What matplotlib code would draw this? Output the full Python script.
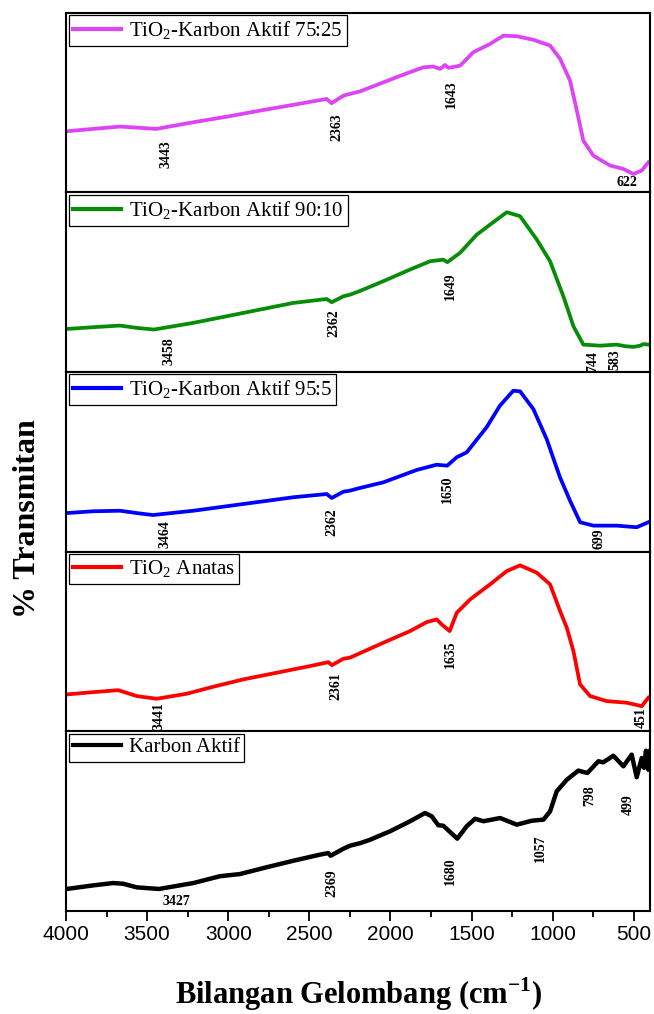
import matplotlib
matplotlib.use('Agg')
import matplotlib.pyplot as plt
from matplotlib.ticker import MultipleLocator

plt.rcParams['font.family'] = 'Liberation Serif'
plt.rcParams['mathtext.fontset'] = 'custom'
plt.rcParams['mathtext.rm'] = 'Liberation Serif'
plt.rcParams['mathtext.bf'] = 'Liberation Serif:bold'

# spectra: wavenumber (cm-1) and relative transmittance (%)
wn_7525 = [3996, 3832, 3667, 3544, 3443, 3216, 3009, 2804, 2599, 2393, 2363, 2290, 2249, 2187,
           2044, 1921, 1797, 1736, 1694, 1663, 1643, 1571, 1489, 1386, 1304, 1221, 1119, 1016,
           954, 893, 851, 811, 749, 646, 564, 503, 451, 410]
t_7525 = [34.0, 35.3, 36.6, 35.9, 35.3, 39.0, 42.1, 45.5, 48.7, 52.0, 49.6, 53.8, 54.8, 56.2,
          61.2, 65.5, 69.6, 70.0, 68.7, 70.9, 69.3, 70.5, 78.0, 82.6, 87.2, 86.9, 84.9, 81.7,
          74.3, 62.2, 45.5, 28.8, 20.4, 14.9, 13.0, 10.2, 12.1, 16.7]

wn_9010 = [3996, 3832, 3667, 3564, 3458, 3215, 3009, 2804, 2599, 2393, 2362, 2290, 2249, 2187,
           2044, 1879, 1756, 1674, 1649, 1571, 1468, 1386, 1283, 1201, 1098, 1016, 934, 872,
           811, 708, 605, 560, 503, 460, 440, 410]
t_9010 = [23.9, 24.9, 25.8, 24.5, 23.6, 27.3, 31.0, 34.7, 38.4, 40.6, 38.8, 42.1, 43.0, 45.1,
          50.5, 57.0, 61.6, 62.5, 61.1, 66.3, 76.4, 82.0, 88.9, 86.7, 73.7, 61.6, 42.1, 25.4,
          15.2, 14.6, 15.2, 14.4, 13.9, 14.6, 15.5, 15.2]

wn_955 = [3996, 3832, 3667, 3564, 3464, 3215, 3009, 2804, 2599, 2393, 2362, 2290, 2249, 2187,
          2044, 1838, 1716, 1650, 1591, 1530, 1407, 1325, 1243, 1201, 1119, 1037, 955, 893,
          831, 749, 605, 482, 410]
t_955 = [21.4, 22.4, 22.7, 21.4, 20.3, 22.7, 25.2, 27.7, 30.2, 32.0, 29.8, 33.3, 33.9, 35.4,
         38.5, 45.4, 48.3, 47.8, 52.5, 55.2, 69.2, 81.2, 89.5, 89.2, 79.3, 62.6, 41.3, 28.3,
         16.3, 14.4, 14.4, 13.5, 16.3]

wn_anatas = [3996, 3832, 3678, 3564, 3441, 3256, 3092, 2907, 2701, 2496, 2383, 2361, 2290, 2249,
             2044, 1879, 1776, 1715, 1684, 1635, 1591, 1509, 1386, 1283, 1201, 1098, 1016, 954,
             913, 872, 831, 769, 667, 543, 451, 410]
t_anatas = [20.4, 21.7, 22.8, 19.5, 18.0, 20.8, 24.7, 28.8, 32.5, 36.2, 38.4, 36.7, 40.3, 40.9,
            49.2, 55.7, 60.7, 62.2, 59.4, 55.7, 65.9, 73.3, 81.7, 89.1, 92.3, 88.2, 81.7, 66.8,
            57.6, 44.5, 26.0, 19.5, 16.7, 15.8, 13.9, 18.6]

wn_karbon = [3996, 3832, 3709, 3647, 3564, 3427, 3215, 3051, 2928, 2763, 2599, 2435, 2383, 2369,
             2290, 2249, 2187, 2126, 2003, 1879, 1787, 1746, 1705, 1674, 1588, 1530, 1478, 1427,
             1324, 1221, 1129, 1057, 1016, 975, 913, 842, 786, 718, 688, 626, 564, 513, 482,
             451, 437, 425, 410, 400]
t_karbon = [12.1, 14.1, 15.4, 15.0, 13.0, 12.1, 15.4, 19.2, 20.4, 24.2, 27.8, 31.2, 32.1, 30.6,
            34.5, 36.2, 37.6, 39.5, 44.2, 49.8, 54.4, 52.6, 47.6, 47.3, 40.1, 47.0, 51.2, 49.8,
            51.6, 47.9, 50.1, 50.7, 55.3, 66.5, 72.9, 78.0, 76.7, 83.2, 82.6, 86.3, 80.4, 86.9,
            74.3, 85.0, 79.5, 89.1, 78.5, 88.8]

names = ['TiO$_2$-Karbon Aktif 75:25', 'TiO$_2$-Karbon Aktif 90:10',
         'TiO$_2$-Karbon Aktif 95:5', 'TiO$_2$ Anatas', 'Karbon Aktif']
colors = ['#dd44f5', '#078c07', '#0000ff', '#ff0000', '#000000']
spectra = [(wn_7525, t_7525), (wn_9010, t_9010), (wn_955, t_955),
           (wn_anatas, t_anatas), (wn_karbon, t_karbon)]

# peak labels per panel: text, and where it sits (wavenumber, % height, rotation)
peak_labels = [
    [('3443', 3383, 21.4, 90), ('2363', 2331, 36.2, 90), ('1643', 1622, 54.8, 90), ('622', 543, 5.2, 0)],
    [('3458', 3363, 11.5, 90), ('2362', 2348, 27.3, 90), ('1649', 1633, 47.7, 90),
     ('744', 753, 6.0, 90), ('583', 615, 6.8, 90)],
    [('3464', 3390, 9.7, 90), ('2362', 2362, 16.3, 90), ('1650', 1647, 34.8, 90), ('699', 712, 7.0, 90)],
    [('3441', 3427, 8.4, 90), ('2361', 2335, 25.1, 90), ('1635', 1628, 42.7, 90), ('451', 455, 7.5, 90)],
    [('3427', 3318, 5.4, 0), ('2369', 2362, 15.4, 90), ('1680', 1633, 22.1, 90),
     ('1057', 1078, 34.9, 90), ('798', 770, 63.9, 90), ('499', 533, 59.0, 90)],
]

W, H = 654, 1014
fig = plt.figure(figsize=(W / 100, H / 100), dpi=100)

top_px = 12.7
panel_h = 179.6
left = 66 / W
width = 584 / W

axes = []
for i in range(5):
    y0 = 1 - (top_px + (i + 1) * panel_h) / H
    ax = fig.add_axes([left, y0, width, panel_h / H])
    axes.append(ax)

    wn, t = spectra[i]
    lw = 3.2 if i == 4 else 2.7
    ax.plot(wn, t, color=colors[i], lw=lw, label=names[i], solid_joinstyle='round')

    for txt, px, py, rot in peak_labels[i]:
        ax.text(px, py, txt, rotation=rot, ha='center', va='center', fontsize=10,
                fontweight='bold', clip_on=False)

    ax.set_xlim(4000, 400)
    ax.set_ylim(0, 100)
    ax.set_yticks([])
    for s in ax.spines.values():
        s.set_linewidth(1.5)

    leg = ax.legend(loc='upper left', fontsize=15, frameon=True, fancybox=False,
                    borderaxespad=0.12, borderpad=0.2, handlelength=2.3,
                    handletextpad=0.4, framealpha=1)
    leg.get_frame().set_edgecolor('black')
    leg.get_frame().set_linewidth(0.9)
    for line in leg.get_lines():
        line.set_linewidth(3.0)

    if i < 4:
        ax.tick_params(axis='x', bottom=False, labelbottom=False)

ax = axes[-1]
ax.xaxis.set_major_locator(MultipleLocator(500))
ax.xaxis.set_minor_locator(MultipleLocator(250))
ax.tick_params(axis='x', which='major', direction='out', length=7, width=1.3, pad=3, labelsize=15)
ax.tick_params(axis='x', which='minor', direction='out', length=4, width=1.3)
for lab in ax.get_xticklabels():
    lab.set_fontfamily('Liberation Sans')

fig.text((66 + 650) / 2 / W, 1 - 994 / H, 'Bilangan Gelombang (cm$^{\\mathbf{-1}}$)',
         ha='center', va='center', fontsize=22, fontweight='bold')
fig.text(28 / W, 1 - 519 / H, '% Transmitan', rotation=90, ha='center', va='center',
         fontsize=23, fontweight='bold')

fig.savefig('out.png', dpi=100)
